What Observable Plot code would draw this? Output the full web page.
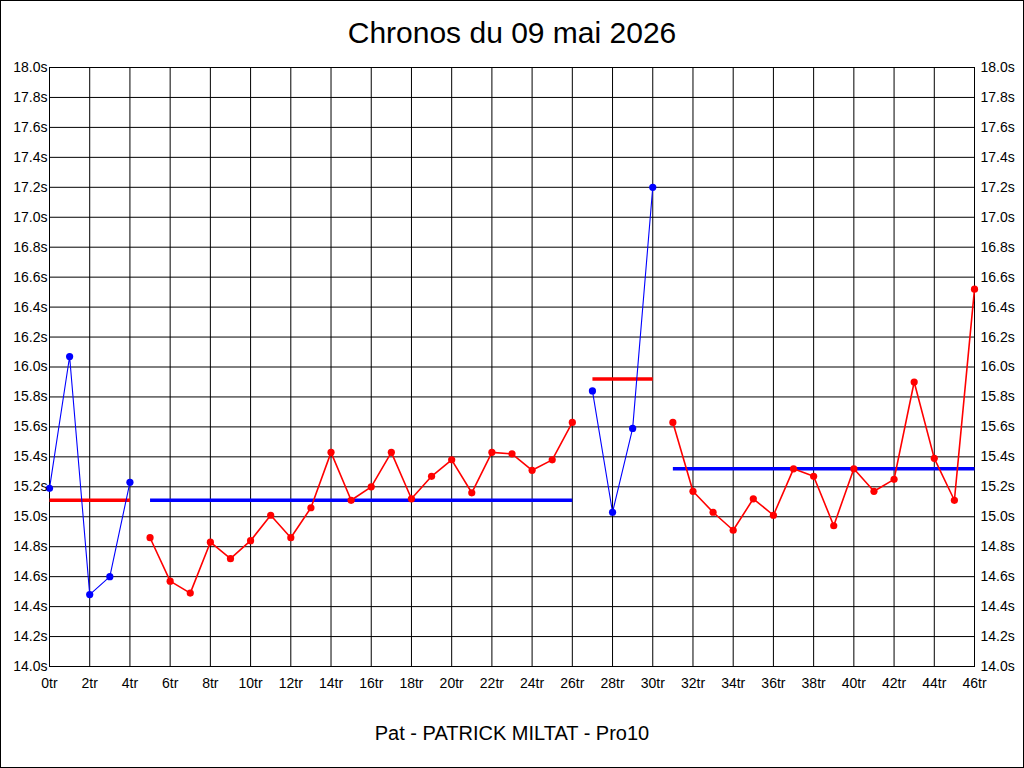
<!DOCTYPE html>
<html><head><meta charset="utf-8">
<script src="https://cdn.jsdelivr.net/npm/d3@7"></script>
<script src="https://cdn.jsdelivr.net/npm/@observablehq/plot@0.6"></script>
<style>
html,body{margin:0;padding:0;background:#fff;}
#wrap{position:relative;width:1024px;height:768px;overflow:hidden;background:#fff;font-family:"Liberation Sans",Arial,sans-serif;color:#000;}
#title{position:absolute;left:0;top:18px;width:1024px;text-align:center;font-size:30px;line-height:30px;white-space:nowrap;}
#chart{position:absolute;left:0;top:50px;}
#caption{position:absolute;left:0;top:723px;width:1024px;text-align:center;font-size:20px;line-height:20px;white-space:nowrap;}
#border{position:absolute;left:0;top:0;width:1024px;height:768px;box-sizing:border-box;border:1px solid #000;pointer-events:none;}
</style>
</head><body>
<div id="wrap">
  <div id="title">Chronos du 09 mai 2026</div>
  <div id="chart"></div>
  <div id="caption">Pat - PATRICK MILTAT - Pro10</div>
  <div id="border"></div>
</div>
<script>
// Lap times (seconds), lap index = position
const times = [15.19,16.07,14.48,14.60,15.23,
  14.86,14.57,14.49,14.83,14.72,14.84,15.01,14.86,15.06,15.43,15.11,15.20,15.43,15.12,15.27,15.38,15.16,15.43,15.42,15.31,15.38,15.63,
  15.84,15.03,15.59,17.20,
  15.63,15.17,15.03,14.91,15.12,15.01,15.32,15.27,14.94,15.32,15.17,15.25,15.90,15.39,15.11,16.52];
// Segments (stints)
const segStart = [0, 5, 27, 31];
const segEnd   = [4, 26, 30, 46];
const segColor = ["#0000ff", "#ff0000", "#0000ff", "#ff0000"];
const segMean  = [15.11, 15.11, 15.92, 15.32];
const meanColor = ["#ff0000", "#0000ff", "#ff0000", "#0000ff"];
// Axis ticks
const xTicks = [0,2,4,6,8,10,12,14,16,18,20,22,24,26,28,30,32,34,36,38,40,42,44,46];
const yTicks = [14.0,14.2,14.4,14.6,14.8,15.0,15.2,15.4,15.6,15.8,16.0,16.2,16.4,16.6,16.8,17.0,17.2,17.4,17.6,17.8,18.0];

const rows = times.map((t, i) => {
  const k = segStart.findIndex((s, j) => i >= s && i <= segEnd[j]);
  return {lap: i, t, seg: k, color: segColor[k]};
});
const means = segMean.map((m, k) => ({x1: segStart[k], x2: segEnd[k], y: m, color: meanColor[k]}));
const blueRows = rows.filter(d => d.color === "#0000ff");
const redRows = rows.filter(d => d.color === "#ff0000");
const yFmt = d => d.toFixed(1) + "s";

const plot = Plot.plot({
  width: 1024,
  height: 680,
  marginTop: 17,
  marginBottom: 64,
  marginLeft: 49,
  marginRight: 50,
  style: {fontSize: "14px", fontFamily: "Liberation Sans, Arial, sans-serif", color: "#000", background: "#fff"},
  x: {domain: [0, 46], axis: null},
  y: {domain: [14, 18], axis: null},
  color: {type: "identity"},
  marks: [
    Plot.gridX(xTicks, {stroke: "#000", strokeOpacity: 1, strokeWidth: 1}),
    Plot.gridY(yTicks, {stroke: "#000", strokeOpacity: 1, strokeWidth: 1}),
    Plot.frame({stroke: "#000"}),
    Plot.link(means, {x1: "x1", x2: "x2", y1: "y", y2: "y", stroke: "color", strokeWidth: 3.5}),
    Plot.line(blueRows, {x: "lap", y: "t", z: "seg", stroke: "color", strokeWidth: 1.1}),
    Plot.line(redRows, {x: "lap", y: "t", z: "seg", stroke: "color", strokeWidth: 1.6}),
    Plot.dot(rows, {x: "lap", y: "t", fill: "color", r: 3.6}),
    Plot.axisY(yTicks, {anchor: "left", tickSize: 0, tickPadding: 2, tickFormat: yFmt, fill: "#000"}),
    Plot.axisY(yTicks, {anchor: "right", tickSize: 0, tickPadding: 6, tickFormat: yFmt, fill: "#000"}),
    Plot.axisX(xTicks, {anchor: "bottom", tickSize: 0, tickPadding: 12, tickFormat: d => d + "tr", fill: "#000"})
  ]
});
document.getElementById("chart").appendChild(plot);
</script>
</body></html>
